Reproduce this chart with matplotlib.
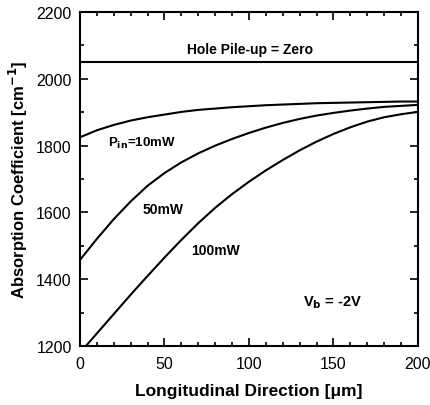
import matplotlib.pyplot as plt
from matplotlib.ticker import MultipleLocator

plt.rcParams['font.family'] = ['Liberation Sans', 'DejaVu Sans']

# data (position along device, um)
x = [0, 10, 20, 30, 40, 50, 60, 70, 80, 90, 100,
     110, 120, 130, 140, 150, 160, 170, 180, 190, 200]
zero_pileup = [2050] * len(x)
p10 = [1825, 1846, 1862, 1875, 1885, 1893, 1901, 1907, 1911, 1915, 1918,
       1921, 1923, 1925, 1927, 1928, 1929, 1930, 1931, 1932, 1932]
p50 = [1458, 1521, 1580, 1633, 1680, 1718, 1750, 1777, 1800, 1820, 1838,
       1854, 1868, 1880, 1890, 1898, 1905, 1911, 1916, 1919, 1922]
p100 = [1180, 1238, 1296, 1354, 1410, 1465, 1518, 1568, 1614, 1655, 1692,
        1726, 1757, 1786, 1812, 1835, 1855, 1872, 1885, 1894, 1901]

fig = plt.figure(figsize=(4.30, 4.06), dpi=100)
ax = fig.add_axes([0.186, 0.145, 0.786, 0.823])

for y in [zero_pileup, p10, p50, p100]:
    ax.plot(x, y, color='black', lw=1.5)

ax.set_xlim(0, 200)
ax.set_ylim(1200, 2200)
ax.xaxis.set_major_locator(MultipleLocator(50))
ax.xaxis.set_minor_locator(MultipleLocator(10))
ax.yaxis.set_major_locator(MultipleLocator(200))
ax.yaxis.set_minor_locator(MultipleLocator(100))
ax.tick_params(which='both', direction='in', top=True, right=True, labelsize=11.5, width=1.2)
ax.tick_params(which='major', length=6)
ax.tick_params(which='minor', length=3)
ax.tick_params(axis='x', pad=7)
ax.tick_params(axis='y', pad=6)
for s in ax.spines.values():
    s.set_linewidth(1.5)

ax.set_xlabel('Longitudinal Direction [\u03bcm]', fontsize=12.5, fontweight='bold', labelpad=9)
ax.set_ylabel('Absorption Coefficient [cm$^{\\mathbf{-1}}$]', fontsize=12, fontweight='bold', labelpad=4)

ax.text(100.5, 2089, 'Hole Pile-up = Zero', ha='center', va='center', fontsize=10, fontweight='bold')
ax.text(16.5, 1810, 'P$_{\\mathbf{in}}$=10mW', ha='left', va='center', fontsize=9.5, fontweight='bold')
ax.text(49.3, 1610, '50mW', ha='center', va='center', fontsize=10, fontweight='bold')
ax.text(80.4, 1488, '100mW', ha='center', va='center', fontsize=10, fontweight='bold')
ax.text(149.4, 1332, 'V$_{\\mathbf{b}}$ = -2V', ha='center', va='center', fontsize=10.5, fontweight='bold')

fig.savefig('out.png', dpi=100)
